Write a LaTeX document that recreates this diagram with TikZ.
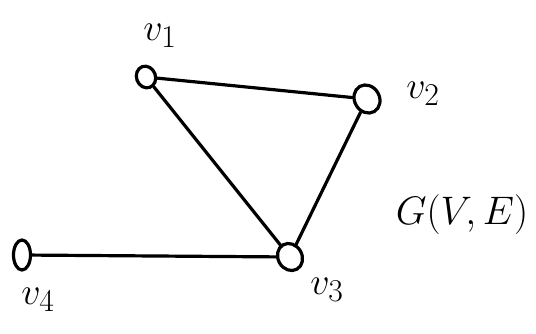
\documentclass[tikz,border=0pt]{standalone}
\usepackage{graphicx}
\usetikzlibrary{shapes.geometric}
\newcommand{\biglbl}[2]{\scalebox{#1}{\Huge$#2$}}
\begin{document}
\begin{tikzpicture}[x=1pt,y=-1pt,
  vert/.style={draw,ellipse,line width=3.2pt,inner sep=0pt},
  edge/.style={line width=3.2pt,line cap=round}]
\useasboundingbox (0,0) rectangle (536,333);
\node[vert,minimum width=19pt,minimum height=22pt,rotate=20] (v1) at (146,77) {};
\node[vert,minimum width=25pt,minimum height=29pt,rotate=30] (v2) at (367,99) {};
\node[vert,minimum width=24pt,minimum height=28pt,rotate=30] (v3) at (290,257) {};
\node[vert,minimum width=17pt,minimum height=30pt] (v4) at (22,255) {};
\draw[edge] (v1) -- (v2);
\draw[edge] (v1) -- (v3);
\draw[edge] (v2) -- (v3);
\draw[edge] (v4) -- (v3);
\node (l1) at (160,36) {\biglbl{1.53}{v_1}};
\node (l2) at (423,94) {\biglbl{1.53}{v_2}};
\node (l3) at (327,290) {\biglbl{1.53}{v_3}};
\node (l4) at (38,300) {\biglbl{1.53}{v_4}};
\node (g) at (462,215) {\biglbl{1.6}{G(V,E)}};
\end{tikzpicture}
\end{document}
